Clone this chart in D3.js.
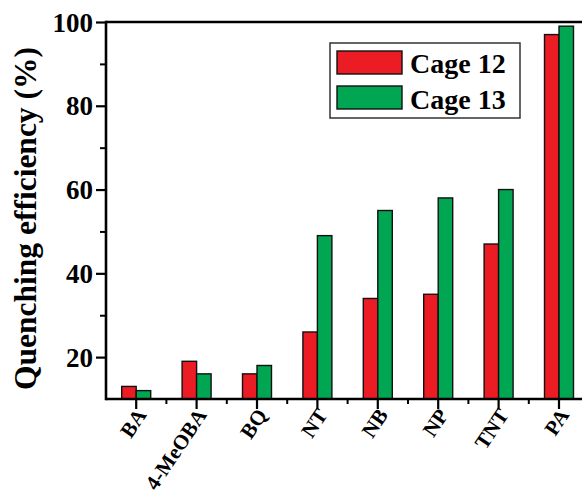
<!DOCTYPE html>
<html>
<head>
<meta charset="utf-8">
<script src="https://cdn.jsdelivr.net/npm/d3@7/dist/d3.min.js"></script>
<style>
  html, body { margin: 0; padding: 0; background: #ffffff; }
  svg { display: block; }
</style>
</head>
<body>
<script>
// Analytes tested and quenching efficiencies (%) for the two cages
const categories = ["BA", "4-MeOBA", "BQ", "NT", "NB", "NP", "TNT", "PA"];
const seriesNames = ["Cage 12", "Cage 13"];
const cage12 = [13, 19, 16, 26, 34, 35, 47, 97];
const cage13 = [12, 16, 18, 49, 55, 58, 60, 99];
const yMajorTicks = [20, 40, 60, 80, 100];
const yMinorTicks = [30, 50, 70, 90];
const colors = ["#ec1c24", "#00a651"];

const W = 582, H = 496;
const plotLeft = 106, plotTop = 22, plotBottom = 399;
const step = 60.4;

const svg = d3.select("body").append("svg")
  .attr("width", W).attr("height", H);

const x0 = d3.scaleBand()
  .domain(categories)
  .range([plotLeft, plotLeft + step * categories.length])
  .paddingInner(0.52)
  .paddingOuter(0.26);

const x1 = d3.scaleBand()
  .domain(seriesNames)
  .range([0, x0.bandwidth()]);

const y = d3.scaleLinear().domain([10, 100]).range([plotBottom, plotTop]);

const rows = categories.map((c, i) => ({ cat: c, values: [cage12[i], cage13[i]] }));

function serifText(sel, size) {
  return sel.style("font-family", '"Liberation Serif"')
    .style("font-weight", "bold")
    .style("font-size", size + "px")
    .style("fill", "#000");
}

// Bars
const groups = svg.append("g").selectAll("g")
  .data(rows).join("g")
  .attr("transform", d => `translate(${x0(d.cat)},0)`);

groups.selectAll("rect")
  .data(d => d.values.map((v, k) => ({ name: seriesNames[k], v, k })))
  .join("rect")
  .attr("x", d => x1(d.name))
  .attr("y", d => y(d.v))
  .attr("width", x1.bandwidth())
  .attr("height", d => y(10) - y(d.v))
  .attr("fill", d => colors[d.k])
  .attr("stroke", "#111")
  .attr("stroke-width", 1.4);

// Left axis with major labelled ticks
const yAxis = d3.axisLeft(y).tickValues(yMajorTicks).tickSize(10).tickPadding(3)
  .tickFormat(d3.format("d"));
const gy = svg.append("g").attr("transform", `translate(${plotLeft},0)`).call(yAxis);
gy.select(".domain").remove();
gy.selectAll(".tick line").attr("stroke", "#000").attr("stroke-width", 2.2);
serifText(gy.selectAll(".tick text"), 27).attr("dy", "0.34em");

// Left axis minor ticks
const yMinor = d3.axisLeft(y).tickValues(yMinorTicks).tickSize(6).tickFormat("");
const gym = svg.append("g").attr("transform", `translate(${plotLeft},0)`).call(yMinor);
gym.select(".domain").remove();
gym.selectAll(".tick line").attr("stroke", "#000").attr("stroke-width", 2);

// Bottom axis: category ticks and in-between minor ticks
const xAxis = d3.axisBottom(x0).tickSize(10).tickFormat("");
const gx = svg.append("g").attr("transform", `translate(0,${plotBottom})`).call(xAxis);
gx.select(".domain").remove();
gx.selectAll(".tick line").attr("stroke", "#000").attr("stroke-width", 2.2);

const mids = categories.map(c => x0(c) + x0.bandwidth() / 2 + x0.step() / 2);
svg.append("g").selectAll("line").data(mids).join("line")
  .attr("x1", d => d).attr("x2", d => d)
  .attr("y1", plotBottom).attr("y2", plotBottom + 5)
  .attr("stroke", "#000").attr("stroke-width", 2);

// Rotated category labels
serifText(svg.append("g").selectAll("text").data(categories).join("text"), 21)
  .attr("transform", c => `translate(${x0(c) + x0.bandwidth() / 2 + 11},${plotBottom + 16}) rotate(-56)`)
  .attr("text-anchor", "end")
  .text(c => c);

// Frame lines: left, bottom, top
const frame = svg.append("g").attr("stroke", "#000").attr("stroke-width", 2.6);
frame.append("line").attr("x1", plotLeft).attr("x2", plotLeft).attr("y1", plotTop - 1.3).attr("y2", plotBottom + 1.3);
frame.append("line").attr("x1", plotLeft).attr("x2", W).attr("y1", plotBottom).attr("y2", plotBottom);
frame.append("line").attr("x1", plotLeft).attr("x2", W).attr("y1", plotTop).attr("y2", plotTop);

// Y axis title
serifText(svg.append("text"), 31.5)
  .attr("transform", `translate(36,${(plotTop + plotBottom) / 2 + 8}) rotate(-90)`)
  .attr("text-anchor", "middle")
  .text("Quenching efficiency (%)");

// Legend
const legend = svg.append("g");
legend.append("rect")
  .attr("x", 330).attr("y", 43).attr("width", 190).attr("height", 75)
  .attr("fill", "#fff").attr("stroke", "#333").attr("stroke-width", 1.5);
seriesNames.forEach((name, k) => {
  legend.append("rect")
    .attr("x", 337).attr("y", 51 + k * 35).attr("width", 65).attr("height", 23)
    .attr("fill", colors[k]).attr("stroke", "#111").attr("stroke-width", 1.4);
  serifText(legend.append("text"), 28)
    .attr("x", 410).attr("y", 73 + k * 36)
    .text(name);
});
</script>
</body>
</html>
